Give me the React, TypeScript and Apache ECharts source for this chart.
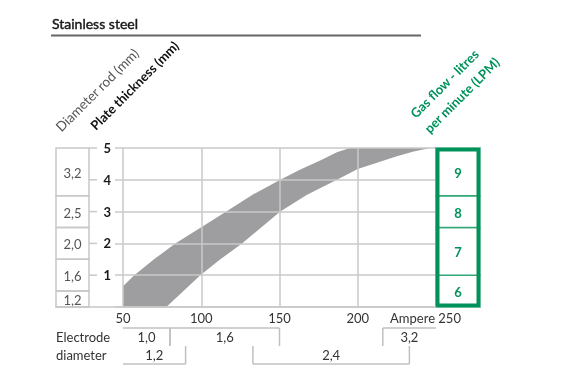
import React, { useEffect, useRef } from 'react';
import * as echarts from 'echarts';

const TITLE = 'Stainless steel';
const X_TICKS_MIN = 50;
const X_TICKS_MAX = 250;
const X_INTERVAL = 50;
const Y_MIN = 0;
const Y_MAX = 5;
const Y_TICKS = [1, 2, 3, 4, 5];

// band edges (Ampere -> plate thickness mm)
const upperX = [50, 57.2, 69.6, 83.4, 100, 116, 133.5, 150.5, 163.3, 176, 186.7, 195];
const upperY = [0.65, 1, 1.49, 2, 2.51, 3, 3.55, 4, 4.32, 4.61, 4.87, 5];
const lowerX = [77.7, 99.4, 112, 126, 150.5, 167.6, 186.7, 200, 225, 235.7, 246.4];
const lowerY = [0, 1, 1.49, 2, 3, 3.53, 4, 4.34, 4.74, 4.89, 5];

// diameter rod (mm) boxes along plate thickness
const rodLabels = ['1,2', '1,6', '2,0', '2,5', '3,2'];
const rodFrom = [0, 0.5, 1.5, 2.5, 3.5];
const rodTo = [0.5, 1.5, 2.5, 3.5, 5];

// gas flow boxes along plate thickness
const gasLabels = ['6', '7', '8', '9'];
const gasFrom = [0, 1, 2.5, 3.5];
const gasTo = [1, 2.5, 3.5, 5];

// electrode diameter ranges (Ampere)
const elecRow1Labels = ['1,0', '1,6', '3,2'];
const elecRow1From = [50, 80, 216];
const elecRow1To = [80, 150, 250];
const elecRow2Labels = ['1,2', '2,4'];
const elecRow2From = [50, 133];
const elecRow2To = [90, 233];

const FONT = 'Lato';
const GRID_COLOR = '#c8c8c8';
const GREEN = '#00925a';

export default function App() {
  const ref = useRef<HTMLDivElement>(null);
  useEffect(() => {
    const chart = echarts.init(ref.current!, null, { renderer: 'svg' });
    const bandPts: number[][] = [
      [upperX[0], 0],
      ...upperX.map((x, i) => [x, upperY[i]]),
      ...lowerX.map((x, i) => [x, lowerY[i]]).reverse(),
    ];
    const elecLabels = [...elecRow1Labels, ...elecRow2Labels];
    const elecData = [
      ...elecRow1From.map((f, i) => [f, elecRow1To[i], 1]),
      ...elecRow2From.map((f, i) => [f, elecRow2To[i], 2]),
    ];
    const option: any = {
      animation: false,
      grid: [
        { left: 123, top: 148, width: 313, height: 159 },
        { left: 115, top: 148, width: 321, height: 159 },
        { left: 56, top: 148, width: 33, height: 159 },
        { left: 56, top: 148, width: 380, height: 159 },
        { left: 436, top: 148, width: 44, height: 159 },
        { left: 123, top: 328, width: 313, height: 36 },
      ],
      xAxis: [
        {
          gridIndex: 0, type: 'value', min: X_TICKS_MIN, max: X_TICKS_MAX, interval: X_INTERVAL, z: 3,
          axisLine: { show: false }, axisTick: { show: false },
          splitLine: { show: true, lineStyle: { color: GRID_COLOR, width: 1.5 } },
          axisLabel: {
            margin: 4, color: '#333', fontFamily: FONT, fontSize: 13, showMaxLabel: true, showMinLabel: true,
            formatter: (v: number) => (v === X_TICKS_MAX ? '{a|Ampere ' + v + '}' : String(v)),
            rich: { a: { fontFamily: FONT, fontSize: 13, color: '#333', padding: [0, 21, 0, 0] } },
          },
        },
        { gridIndex: 1, type: 'value', min: 0, max: 1, show: false },
        { gridIndex: 2, type: 'value', min: 0, max: 1, show: false },
        {
          gridIndex: 3, type: 'value', min: 0, max: 1, z: 3,
          axisLine: { show: true, lineStyle: { color: GRID_COLOR, width: 1.5 } },
          axisTick: { show: false }, axisLabel: { show: false }, splitLine: { show: false },
        },
        { gridIndex: 4, type: 'value', min: 0, max: 1, show: false },
        { gridIndex: 5, type: 'value', min: X_TICKS_MIN, max: X_TICKS_MAX, show: false },
      ],
      yAxis: [
        { gridIndex: 0, type: 'value', min: Y_MIN, max: Y_MAX, interval: 1, show: false },
        {
          gridIndex: 1, type: 'value', min: Y_MIN, max: Y_MAX, interval: 1, z: 3,
          axisLine: { show: false }, axisTick: { show: false },
          splitLine: { show: true, lineStyle: { color: GRID_COLOR, width: 1.5 } },
          axisLabel: {
            margin: 4, fontFamily: FONT, fontWeight: 'bold', fontSize: 13, color: '#1a1a1a',
            formatter: (v: number) => (v === 0 ? '' : String(v)),
          },
        },
        { gridIndex: 2, type: 'value', min: Y_MIN, max: Y_MAX, show: false },
        { gridIndex: 3, type: 'value', min: 0, max: 1, show: false },
        { gridIndex: 4, type: 'value', min: Y_MIN, max: Y_MAX, show: false },
        { gridIndex: 5, type: 'value', min: 0, max: 2, show: false },
      ],
      series: [
        {
          type: 'custom', xAxisIndex: 0, yAxisIndex: 0, silent: true, clip: false, z: 2,
          data: [[upperX[0], 0]],
          renderItem: (params: any, api: any) => ({
            type: 'polygon',
            shape: { points: bandPts.map((p) => api.coord(p)) },
            style: { fill: '#9e9ea1' },
          }),
        },
        {
          type: 'custom', xAxisIndex: 2, yAxisIndex: 2, silent: true, clip: false,
          data: rodFrom.map((f, i) => [f, rodTo[i]]),
          renderItem: (params: any, api: any) => {
            const a = api.coord([0, api.value(0)]);
            const b = api.coord([1, api.value(1)]);
            return {
              type: 'group',
              children: [
                { type: 'rect', shape: { x: a[0], y: b[1], width: b[0] - a[0], height: a[1] - b[1] },
                  style: { fill: 'none', stroke: GRID_COLOR, lineWidth: 1.5 } },
                { type: 'text', x: (a[0] + b[0]) / 2, y: (a[1] + b[1]) / 2 + 1,
                  style: { text: rodLabels[params.dataIndex], align: 'center', verticalAlign: 'middle',
                    fontFamily: FONT, fontSize: 13, fill: '#555' } },
              ],
            };
          },
        },
        {
          type: 'custom', xAxisIndex: 2, yAxisIndex: 2, silent: true, clip: false,
          data: Y_TICKS.map((v) => [1, v]),
          renderItem: (params: any, api: any) => {
            const p = api.coord([api.value(0), api.value(1)]);
            return {
              type: 'line',
              shape: { x1: p[0], y1: p[1], x2: p[0] + 8, y2: p[1] },
              style: { stroke: GRID_COLOR, lineWidth: 1.5 },
            };
          },
        },
        {
          type: 'custom', xAxisIndex: 4, yAxisIndex: 4, silent: true, clip: false, z: 3,
          data: gasFrom.map((f, i) => [f, gasTo[i]]),
          renderItem: (params: any, api: any) => {
            const a = api.coord([0, api.value(0)]);
            const b = api.coord([1, api.value(1)]);
            return {
              type: 'group',
              children: [
                { type: 'rect', shape: { x: a[0], y: b[1], width: b[0] - a[0], height: a[1] - b[1] },
                  style: { fill: '#fff', stroke: '#33a877', lineWidth: 1.5 } },
                { type: 'text', x: (a[0] + b[0]) / 2, y: (a[1] + b[1]) / 2 + 1,
                  style: { text: gasLabels[params.dataIndex], align: 'center', verticalAlign: 'middle',
                    fontFamily: FONT, fontWeight: 'bold', fontSize: 13, fill: GREEN } },
              ],
            };
          },
        },
        {
          type: 'custom', xAxisIndex: 4, yAxisIndex: 4, silent: true, clip: false, z: 4,
          data: [[0, Y_MAX]],
          renderItem: (params: any, api: any) => {
            const a = api.coord([0, Y_MIN]);
            const b = api.coord([1, Y_MAX]);
            const w = 3.5;
            return {
              type: 'rect',
              shape: { x: a[0] + w / 2, y: b[1] + w / 2, width: b[0] - a[0] - w, height: a[1] - b[1] - w },
              style: { fill: 'none', stroke: GREEN, lineWidth: w },
            };
          },
        },
        {
          type: 'custom', xAxisIndex: 5, yAxisIndex: 5, silent: true, clip: false,
          data: elecData,
          renderItem: (params: any, api: any) => {
            const from = api.value(0);
            const to = api.value(1);
            const row = api.value(2);
            const lineY = row === 1 ? 2 : 0;
            const x1 = api.coord([from, 1])[0];
            const x2 = api.coord([to, 1])[0];
            const yl = api.coord([from, lineY])[1];
            const ym = api.coord([from, 1])[1];
            const yt = api.coord([from, row === 1 ? 1.5 : 0.5])[1];
            const st = { stroke: '#c0c0c0', lineWidth: 1.5 };
            const children: any[] = [
              { type: 'line', shape: { x1, y1: yl, x2, y2: yl }, style: st },
            ];
            if (from > X_TICKS_MIN) children.push({ type: 'line', shape: { x1, y1: yl, x2: x1, y2: ym }, style: st });
            if (to < X_TICKS_MAX) children.push({ type: 'line', shape: { x1: x2, y1: yl, x2, y2: ym }, style: st });
            children.push({
              type: 'text', x: (x1 + x2) / 2, y: yt,
              style: { text: elecLabels[params.dataIndex], align: 'center', verticalAlign: 'middle',
                fontFamily: FONT, fontSize: 13, fill: '#333' },
            });
            return { type: 'group', children };
          },
        },
      ],
      graphic: [
        { type: 'text', x: 52, y: 23, style: { text: TITLE, fontFamily: FONT, fontSize: 14, fontWeight: 'normal', fill: '#1a1a1a', stroke: '#1a1a1a', lineWidth: 0.45, align: 'left', verticalAlign: 'middle' } },
        { type: 'line', shape: { x1: 51, y1: 35.5, x2: 421, y2: 35.5 }, style: { stroke: '#666', lineWidth: 2 } },
        { type: 'text', x: 63, y: 134, rotation: Math.PI / 4, style: { text: 'Diameter rod (mm)', fontFamily: FONT, fontSize: 13.5, fill: '#555', align: 'left', verticalAlign: 'bottom' } },
        { type: 'text', x: 97, y: 132, rotation: Math.PI / 4, style: { text: 'Plate thickness (mm)', fontFamily: FONT, fontSize: 13, fontWeight: 'bold', fill: '#111', align: 'left', verticalAlign: 'bottom' } },
        { type: 'text', x: 417, y: 120, rotation: Math.PI / 4, style: { text: 'Gas flow - litres', fontFamily: FONT, fontSize: 13, fontWeight: 'bold', fill: GREEN, align: 'left', verticalAlign: 'bottom' } },
        { type: 'text', x: 431, y: 135, rotation: Math.PI / 4, style: { text: 'per minute (LPM)', fontFamily: FONT, fontSize: 13, fontWeight: 'bold', fill: GREEN, align: 'left', verticalAlign: 'bottom' } },
        { type: 'text', x: 56, y: 337, style: { text: 'Electrode', fontFamily: FONT, fontSize: 13, fill: '#333', align: 'left', verticalAlign: 'middle' } },
        { type: 'text', x: 56, y: 355, style: { text: 'diameter', fontFamily: FONT, fontSize: 13, fill: '#333', align: 'left', verticalAlign: 'middle' } },
      ],
    };
    chart.setOption(option);
    return () => chart.dispose();
  }, []);
  return <div ref={ref} style={{ position: 'fixed', left: 0, top: 0, width: 570, height: 380 }} />;
}
